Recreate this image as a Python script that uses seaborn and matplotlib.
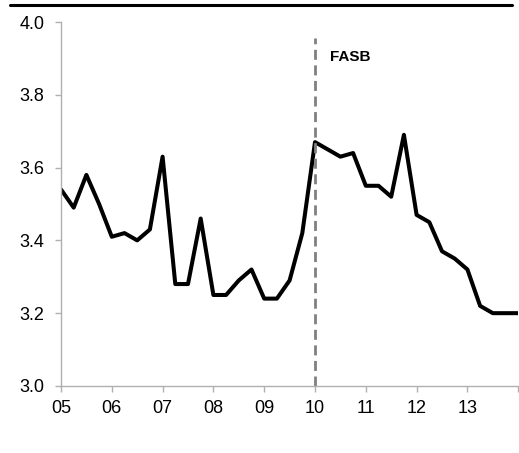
import pandas as pd
import seaborn as sns
import matplotlib.pyplot as plt
from matplotlib.lines import Line2D

# Data: quarterly series, 2005Q1 - 2014Q1
quarters = pd.period_range('2005Q1', '2014Q1', freq='Q')
values = [3.54, 3.49, 3.58, 3.50, 3.41, 3.42, 3.40, 3.43, 3.63, 3.28,
          3.28, 3.46, 3.25, 3.25, 3.29, 3.32, 3.24, 3.24, 3.29, 3.42,
          3.67, 3.65, 3.63, 3.64, 3.55, 3.55, 3.52, 3.69, 3.47, 3.45,
          3.37, 3.35, 3.32, 3.22, 3.20, 3.20, 3.20]
tick_years = [2005, 2006, 2007, 2008, 2009, 2010, 2011, 2012, 2013, 2014]
tick_labels = ['05', '06', '07', '08', '09', '10', '11', '12', '13', '']
event_year = 2010
event_label = 'FASB'

dat = pd.DataFrame({'t': quarters.year + (quarters.quarter - 1) / 4, 'v': values})

sns.set_style('white')
plt.rcParams['font.family'] = ['Liberation Sans', 'DejaVu Sans']

fig = plt.figure(figsize=(5.19, 4.53), dpi=100)
ax = fig.add_axes([0.1175, 0.148, 0.881, 0.8034])

sns.lineplot(data=dat, x='t', y='v', color='black', linewidth=2.9, ax=ax)
ax.vlines(event_year, 3.0, 3.955, color='#808080', linewidth=2.0,
          linestyles=(0, (3.6, 2.0)))
ax.text(event_year + 0.3, 3.904, event_label, fontsize=11, fontweight='bold',
        color='black', va='center', ha='left')

ax.set_xlim(2005, 2014)
ax.set_ylim(3.0, 4.0)
ax.set_xticks(tick_years)
ax.set_xticklabels(tick_labels)
ax.set_yticks([3.0, 3.2, 3.4, 3.6, 3.8, 4.0])
ax.set_yticklabels(['3.0', '3.2', '3.4', '3.6', '3.8', '4.0'])
ax.set_xlabel('')
ax.set_ylabel('')

for s in ['top', 'right']:
    ax.spines[s].set_visible(False)
for s in ['left', 'bottom']:
    ax.spines[s].set_color('#b0b0b0')
    ax.spines[s].set_linewidth(1.0)
ax.tick_params(axis='both', which='major', direction='out', length=4, width=1,
               color='#b0b0b0', labelsize=13, labelcolor='black', pad=6,
               bottom=True, left=True)
ax.tick_params(axis='y', pad=8)

# frame line at the top of the picture
fig.add_artist(Line2D([0.019, 0.987], [0.989, 0.989], color='black', linewidth=2.2))

fig.savefig('out.png', dpi=100)
